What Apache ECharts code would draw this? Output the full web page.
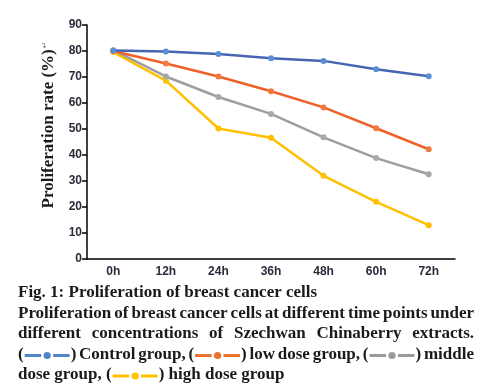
<!DOCTYPE html>
<html>
<head>
<meta charset="utf-8">
<script src="https://cdn.jsdelivr.net/npm/echarts@6/dist/echarts.min.js"></script>
<style>
html,body{margin:0;padding:0;background:#fff;}
#c{width:484px;height:388px;}
</style>
</head>
<body>
<div id="c"></div>
<script>
const categories = ['0h', '12h', '24h', '36h', '48h', '60h', '72h'];
const seriesNames = ['Control group', 'low dose group', 'middle dose group', 'high dose group'];
const control = [80.2, 79.8, 78.8, 77.2, 76.2, 73.0, 70.3];
const lowDose = [80.0, 75.2, 70.2, 64.5, 58.3, 50.3, 42.2];
const middleDose = [80.3, 70.2, 62.3, 55.8, 46.8, 38.8, 32.6];
const highDose = [79.6, 68.6, 50.2, 46.6, 32.0, 22.0, 13.0];
const yMin = 0, yMax = 90, yStep = 10;
const yAxisTitle = 'Proliferation rate (%)';
const captionLines = [
  'Fig. 1: Proliferation of breast cancer cells',
  'Proliferation of breast cancer cells at different time points under',
  'different concentrations of Szechwan Chinaberry extracts.',
  '(§0) Control group, (§1) low dose group, (§2) middle',
  'dose group, (§3) high dose group'
];

const lineColors = ['#4565B3', '#F0602A', '#9E9E9E', '#FFC000'];
const dotColors = ['#5B8ED6', '#F07A3E', '#A8A8A8', '#FFC000'];
const legendColors = ['#4E86C8', '#E8722E', '#999999', '#FFC000'];
const allData = [control, lowDose, middleDose, highDose];

const chart = echarts.init(document.getElementById('c'), null, {renderer: 'canvas'});

// caption layout
const capFont = 'bold 17px "Liberation Serif", "Times New Roman", serif';
const capLeft = 18, capRight = 474, capTop = 293, capLH = 20.5, markerW = 47;
const mctx = document.createElement('canvas').getContext('2d');
mctx.font = capFont;
function wordPieces(w) {
  const parts = w.split(/§(\d)/);
  const pieces = [];
  for (let i = 0; i < parts.length; i++) {
    if (i % 2 === 1) pieces.push({marker: +parts[i], w: markerW});
    else if (parts[i]) pieces.push({text: parts[i], w: mctx.measureText(parts[i]).width});
  }
  return pieces;
}
const graphics = [];
const spaceW = mctx.measureText(' ').width;
captionLines.forEach((line, li) => {
  const words = line.split(' ').map(w => {
    const p = wordPieces(w);
    return {pieces: p, w: p.reduce((s, q) => s + q.w, 0)};
  });
  const total = words.reduce((s, w) => s + w.w, 0);
  const justify = li > 0 && li < captionLines.length - 1;
  const gap = justify ? (capRight - capLeft - total) / (words.length - 1) : spaceW;
  let x = capLeft;
  const y = capTop + li * capLH;
  words.forEach(w => {
    w.pieces.forEach(p => {
      if (p.text) {
        graphics.push({type: 'text', x: x, y: y, silent: true,
          style: {text: p.text, font: capFont, fill: '#1a1a1a', verticalAlign: 'middle', align: 'left'}});
      } else {
        const c = legendColors[p.marker];
        const cx = x + markerW / 2, cy = y + 1;
        graphics.push({type: 'line', silent: true,
          shape: {x1: x + 1, y1: cy, x2: cx - 6, y2: cy},
          style: {stroke: c, lineWidth: 3}});
        graphics.push({type: 'line', silent: true,
          shape: {x1: cx + 6, y1: cy, x2: x + markerW - 1, y2: cy},
          style: {stroke: c, lineWidth: 3}});
        graphics.push({type: 'circle', silent: true,
          shape: {cx: cx, cy: cy, r: 3.6},
          style: {fill: c}});
      }
      x += p.w;
    });
    x += gap;
  });
});

// y axis title
graphics.push({
  type: 'text', x: 49, y: 125, rotation: Math.PI / 2, silent: true,
  style: {
    text: '{t|' + yAxisTitle + '}{m|↵}',
    align: 'center', verticalAlign: 'middle',
    rich: {
      t: {fontFamily: '"Liberation Serif", "Times New Roman", serif', fontWeight: 'bold', fontSize: 17, fill: '#1a1a1a'},
      m: {fontFamily: 'DejaVu Sans', fontSize: 8, fill: '#777', verticalAlign: 'top', padding: [0, 0, 6, 1]}
    }
  }
});

const option = {
  animation: false,
  backgroundColor: '#fff',
  grid: {left: 87, right: 29, top: 25, bottom: 129, containLabel: false},
  xAxis: {
    type: 'category',
    data: categories,
    boundaryGap: true,
    axisLine: {lineStyle: {color: '#000', width: 1.5}},
    axisTick: {alignWithLabel: true, length: 5, lineStyle: {color: '#000', width: 1.5}},
    axisLabel: {color: '#2b2b3b', fontFamily: '"Liberation Sans Narrow", "Liberation Sans", Arial, sans-serif', fontSize: 12, fontWeight: 'bold', margin: 7},
    splitLine: {show: false}
  },
  yAxis: {
    type: 'value',
    min: yMin, max: yMax, interval: yStep,
    axisLine: {show: true, lineStyle: {color: '#000', width: 1.5}},
    axisTick: {show: true, length: 5, lineStyle: {color: '#000', width: 1.5}},
    axisLabel: {color: '#2b2b3b', fontFamily: '"Liberation Sans Narrow", "Liberation Sans", Arial, sans-serif', fontSize: 12, fontWeight: 'bold', margin: 5},
    splitLine: {show: false}
  },
  series: allData.map((d, i) => ({
    name: seriesNames[i],
    type: 'line',
    data: d,
    symbol: 'circle',
    symbolSize: 6,
    showSymbol: true,
    lineStyle: {color: lineColors[i], width: 2.5},
    itemStyle: {color: dotColors[i]},
    z: 2 + (3 - i)
  })),
  graphic: graphics
};
chart.setOption(option);
</script>
</body>
</html>
